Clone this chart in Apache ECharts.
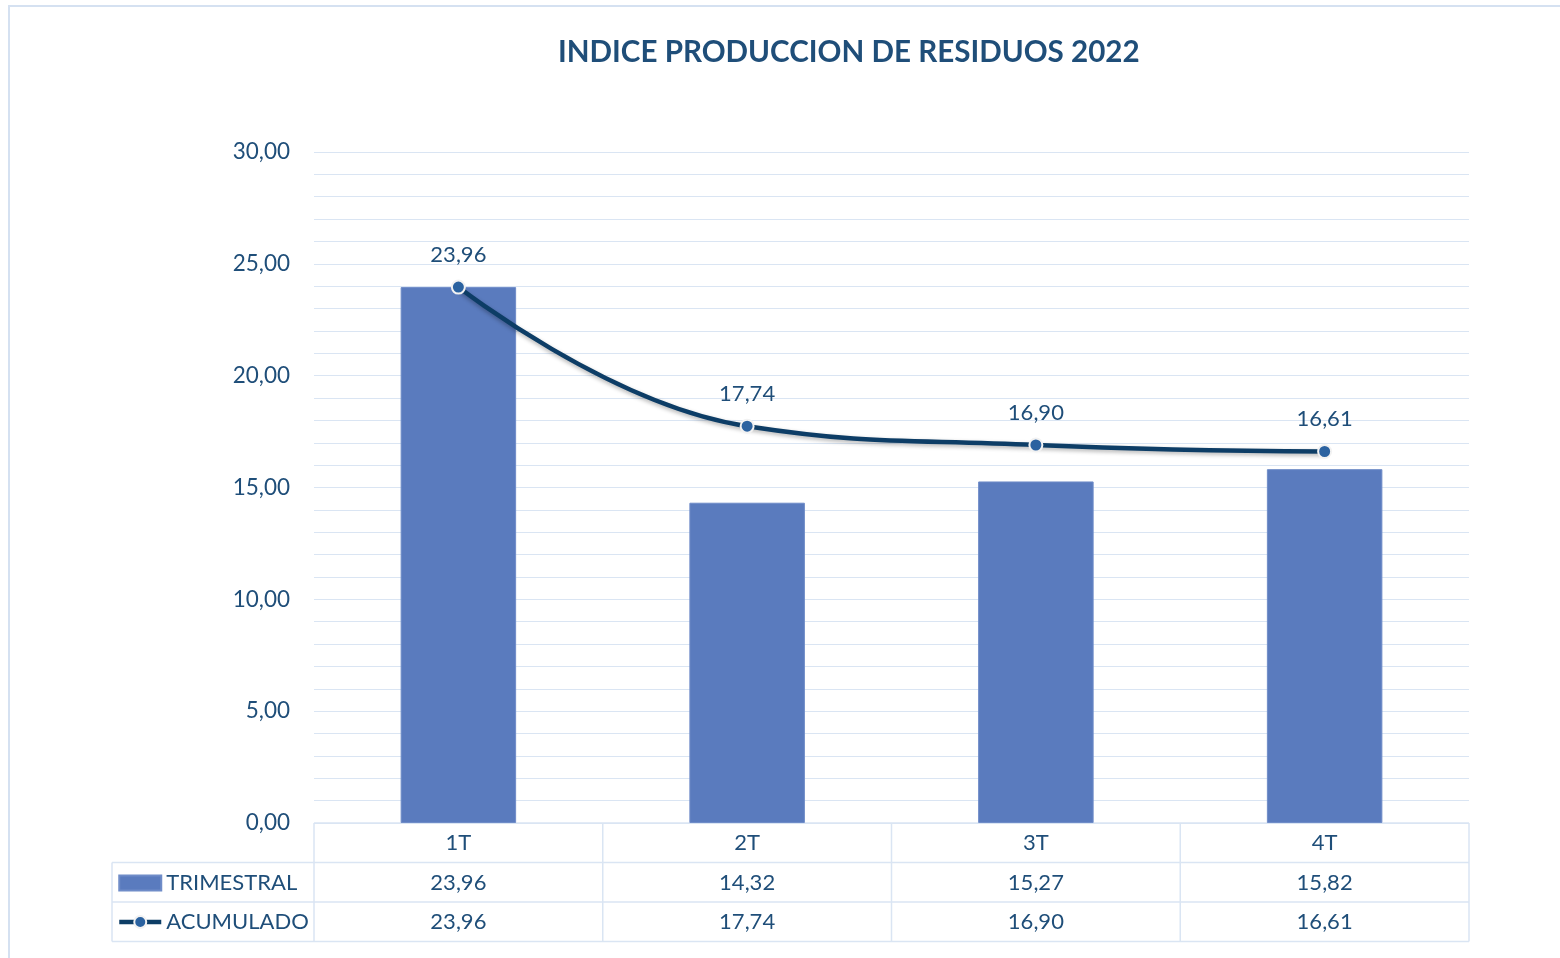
<!DOCTYPE html>
<html>
<head>
<meta charset="utf-8">
<script src="https://cdn.jsdelivr.net/npm/echarts@6/dist/echarts.min.js"></script>
<style>
  html, body { margin: 0; padding: 0; background: #fff; }
  #main { width: 1560px; height: 958px; }
</style>
</head>
<body>
<div id="main"></div>
<script>
// datos del grafico
const categorias = ['1T', '2T', '3T', '4T'];
const trimestral = [23.96, 14.32, 15.27, 15.82];
const acumulado = [23.96, 17.74, 16.90, 16.61];
const titulo = 'INDICE PRODUCCION DE RESIDUOS 2022';

const fmt = v => Number(v).toFixed(2).replace('.', ',');

const textColor = '#1F4E79';
const gridColor = '#DAE5F3';
const font = 'Lato';

// layout de la tabla
const L = 314, R = 1469, T = 152, B = 823;
const rowH = 39.5;
const tableLeft = 112;

const chart = echarts.init(document.getElementById('main'));

function tableLines() {
  const els = [];
  const line = (x1, y1, x2, y2) => els.push({
    type: 'line', silent: true,
    shape: { x1, y1, x2, y2 },
    style: { stroke: gridColor, lineWidth: 1.5 }
  });
  const bw = (R - L) / categorias.length;
  line(L, B, R, B);
  for (let r = 1; r <= 3; r++) line(tableLeft, B + rowH * r, R, B + rowH * r);
  line(tableLeft, B + rowH, tableLeft, B + rowH * 3);
  for (let i = 0; i <= categorias.length; i++) line(L + bw * i, B, L + bw * i, B + rowH * 3);
  // marco
  els.push({
    type: 'polyline', silent: true,
    shape: { points: [[9, 958], [9, 6], [1560, 6]] },
    style: { stroke: '#D5E1F1', lineWidth: 2, fill: null }
  });
  els.push({
    type: 'text', left: 558, top: 37,
    style: { text: titulo, fill: textColor, font: 'bold 29.6px ' + font }
  });
  return els;
}

const valueAxis = (data, offset) => ({
  type: 'category', data: data, position: 'bottom', offset: offset, gridIndex: 0,
  axisLine: { show: false }, axisTick: { show: false },
  axisLabel: { color: textColor, fontSize: 22, fontFamily: font, margin: 9 }
});

chart.setOption({
  animation: false,
  textStyle: { fontFamily: font },
  grid: { left: L, right: 1560 - R, top: T, bottom: 958 - B },
  legend: {
    orient: 'vertical', left: 112, top: 867, itemGap: 17,
    itemWidth: 42, itemHeight: 15,
    textStyle: { color: textColor, fontSize: 22, fontFamily: font },
    data: [
      { name: 'TRIMESTRAL', icon: 'rect' },
      { name: 'ACUMULADO', lineStyle: { width: 4.5, color: '#0D3D66' } }
    ]
  },
  xAxis: [
    {
      type: 'category', data: categorias,
      axisLine: { show: false }, axisTick: { show: false },
      axisLabel: { color: textColor, fontSize: 22, fontFamily: font, margin: 9 }
    },
    valueAxis(trimestral.map(fmt), rowH),
    valueAxis(acumulado.map(fmt), rowH * 2)
  ],
  yAxis: {
    type: 'value', min: 0, max: 30, interval: 5,
    axisLine: { show: false }, axisTick: { show: false },
    axisLabel: { color: textColor, fontSize: 22.5, fontFamily: font, margin: 24, formatter: fmt },
    splitLine: { lineStyle: { color: gridColor, width: 1.2 } },
    minorTick: { show: false, splitNumber: 5 },
    minorSplitLine: { show: true, lineStyle: { color: gridColor, width: 1.2 } }
  },
  series: [
    {
      name: 'TRIMESTRAL', type: 'bar', data: trimestral, barWidth: '40%',
      itemStyle: { color: '#5A7BBE', borderColor: '#6F8CC8', borderWidth: 1 }
    },
    {
      name: 'ACUMULADO', type: 'line', data: acumulado, smooth: 0.45,
      symbol: 'circle', symbolSize: 13,
      lineStyle: { color: '#0D3D66', width: 4.5, shadowColor: 'rgba(0,0,0,0.3)', shadowBlur: 4, shadowOffsetY: 2 },
      itemStyle: { color: '#2B62A0', borderColor: '#F2F2F2', borderWidth: 2 },
      label: {
        show: true, position: 'top', distance: 14, formatter: p => fmt(p.value),
        color: textColor, fontSize: 22, fontFamily: font
      },
      z: 5
    }
  ],
  graphic: tableLines()
});
</script>
</body>
</html>
